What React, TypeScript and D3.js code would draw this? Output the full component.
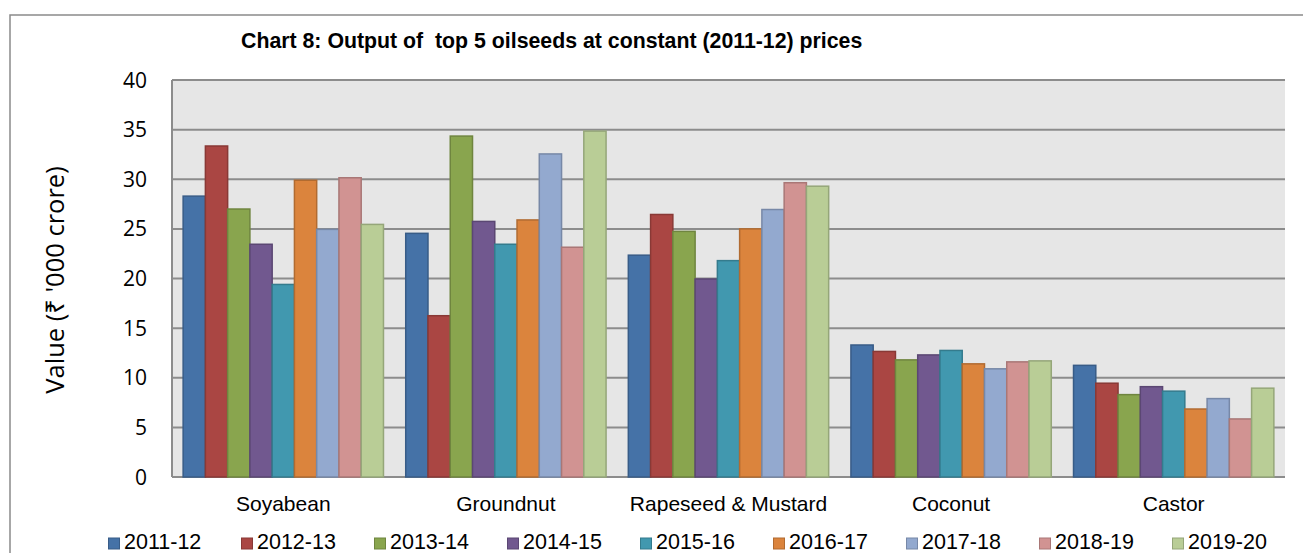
import React from 'react';
import * as d3 from 'd3';

// chart data
const crops = ['Soyabean', 'Groundnut', 'Rapeseed & Mustard', 'Coconut', 'Castor'];
const years = ['2011-12', '2012-13', '2013-14', '2014-15', '2015-16', '2016-17', '2017-18', '2018-19', '2019-20'];
const soyabean = [28.3, 33.35, 27.0, 23.45, 19.4, 29.9, 24.95, 30.15, 25.45];
const groundnut = [24.55, 16.25, 34.35, 25.75, 23.45, 25.9, 32.55, 23.15, 34.85];
const rapeseed = [22.35, 26.45, 24.75, 19.95, 21.8, 25.0, 26.95, 29.65, 29.3];
const coconut = [13.3, 12.65, 11.8, 12.3, 12.75, 11.4, 10.9, 11.6, 11.7];
const castor = [11.25, 9.45, 8.3, 9.1, 8.65, 6.85, 7.9, 5.85, 8.95];
const yTicks = [0, 5, 10, 15, 20, 25, 30, 35, 40];

const colors = ['#4572A7', '#AA4643', '#89A54E', '#71588F', '#4198AF', '#DB843D', '#93A9CF', '#D19392', '#B9CD96'];

const W = 1303;
const H = 553;
const plot = { left: 172, right: 1285, top: 80, bottom: 477 };

const App = () => {
  const rows = [soyabean, groundnut, rapeseed, coconut, castor];

  const x0 = d3.scaleBand<string>().domain(crops).range([plot.left, plot.right]);
  const x1 = d3
    .scaleBand<string>()
    .domain(years)
    .range([0, x0.bandwidth()])
    .paddingOuter(0.5)
    .paddingInner(0);
  const y = d3.scaleLinear().domain([0, 40]).range([plot.bottom, plot.top]);
  const color = d3.scaleOrdinal<string, string>().domain(years).range(colors);

  const arial = 'Liberation Sans, Arial, sans-serif';
  const body = '"Open Sans", "Noto Sans", sans-serif';

  return (
    <div style={{ position: 'fixed', left: 0, top: 0 }}>
      <svg width={W} height={H} style={{ display: 'block', background: '#fff' }}>
        {/* chart frame */}
        <rect x={10} y={15} width={W + 20} height={H + 20} fill="#fff" stroke="#8a8a8a" strokeWidth={1.5} />

        <text x={241} y={48} fontFamily={arial} fontWeight="bold" fontSize={21.3} fill="#000" style={{ whiteSpace: 'pre' }}>
          {'Chart 8: Output of  top 5 oilseeds at constant (2011-12) prices'}
        </text>

        {/* plot area */}
        <rect
          x={plot.left}
          y={plot.top}
          width={plot.right - plot.left}
          height={plot.bottom - plot.top}
          fill="#e6e6e6"
        />
        {yTicks.map((t) => (
          <line key={t} x1={plot.left} x2={plot.right} y1={y(t)} y2={y(t)} stroke="#8c8c8c" strokeWidth={2} />
        ))}
        <line x1={plot.left} x2={plot.left} y1={plot.top} y2={plot.bottom} stroke="#8c8c8c" strokeWidth={2} />

        {yTicks.map((t) => (
          <text key={t} x={147} y={y(t)} dy="0.36em" textAnchor="end" fontFamily={body} fontSize={21} fill="#000">
            {t}
          </text>
        ))}

        <text
          transform={`translate(64,280) rotate(-90)`}
          textAnchor="middle"
          fontFamily={body}
          fontSize={25.5}
          fill="#000"
        >
          Value (₹ '000 crore)
        </text>

        {/* bars */}
        {rows.map((vals, ci) => (
          <g key={crops[ci]} transform={`translate(${x0(crops[ci])},0)`}>
            {vals.map((v, si) => (
              <rect
                key={years[si]}
                x={x1(years[si])}
                y={y(v)}
                width={x1.bandwidth()}
                height={y(0) - y(v)}
                fill={color(years[si])}
                stroke={d3.color(color(years[si]))!.darker(0.6).formatHex()}
                strokeWidth={1.5}
              />
            ))}
          </g>
        ))}

        {/* category labels */}
        {crops.map((c) => (
          <text
            key={c}
            x={(x0(c) as number) + x0.bandwidth() / 2}
            y={511}
            textAnchor="middle"
            fontFamily={arial}
            fontSize={21}
            fill="#000"
          >
            {c}
          </text>
        ))}

        {/* legend */}
        {years.map((yr, i) => (
          <g key={yr} transform={`translate(${108 + i * 133},0)`}>
            <rect
              x={0.5}
              y={538}
              width={11}
              height={11}
              fill={color(yr)}
              stroke={d3.color(color(yr))!.darker(0.6).formatHex()}
              strokeWidth={1}
            />
            <text x={16} y={549} fontFamily={arial} fontSize={21.5} fill="#000">
              {yr}
            </text>
          </g>
        ))}
      </svg>
    </div>
  );
};

export default App;
